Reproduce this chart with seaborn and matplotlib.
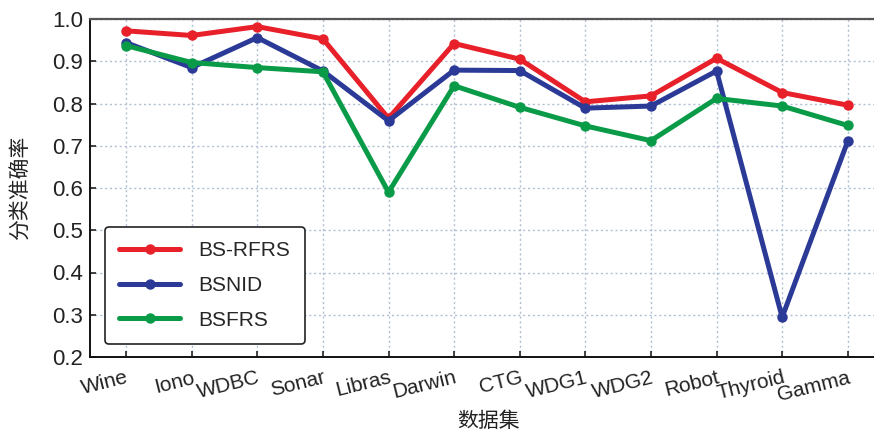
import matplotlib
matplotlib.use("Agg")
import matplotlib.pyplot as plt
import seaborn as sns
import pandas as pd

datasets = ["Wine", "Iono", "WDBC", "Sonar", "Libras", "Darwin", "CTG",
            "WDG1", "WDG2", "Robot", "Thyroid", "Gamma"]
bs_rfrs = [0.972, 0.961, 0.982, 0.953, 0.765, 0.942, 0.905, 0.804, 0.818, 0.907, 0.826, 0.796]
bsnid = [0.944, 0.885, 0.956, 0.877, 0.759, 0.879, 0.878, 0.789, 0.794, 0.877, 0.294, 0.711]
bsfrs = [0.937, 0.897, 0.885, 0.875, 0.590, 0.842, 0.791, 0.747, 0.712, 0.812, 0.794, 0.748]
series_names = ["BS-RFRS", "BSNID", "BSFRS"]
colors = ["#E8202A", "#2B3A97", "#0A9B48"]
yticks = [0.2, 0.3, 0.4, 0.5, 0.6, 0.7, 0.8, 0.9, 1.0]

rows = []
for name, vals in zip(series_names, [bs_rfrs, bsnid, bsfrs]):
    for i, v in enumerate(vals):
        rows.append({"idx": i, "acc": v, "method": name})
df = pd.DataFrame(rows)

sns.set_style("ticks")
plt.rcParams["font.family"] = ["Liberation Sans", "Noto Sans CJK SC", "DejaVu Sans"]

fig = plt.figure(figsize=(8.74, 4.32), dpi=100)
ax = fig.add_axes([90 / 874, 1 - 357 / 432, 1 - 90 / 874, (357 - 19) / 432])

sns.lineplot(data=df, x="idx", y="acc", hue="method", hue_order=series_names,
             palette=colors, marker="o", markersize=7.5, markeredgewidth=0,
             linewidth=3.6, ax=ax, legend=True)

ax.set_xlim(-0.55, 11.40)
ax.set_ylim(0.2, 1.0)
ax.set_xticks(range(len(datasets)))
ax.set_xticklabels(datasets, rotation=14, ha="right", rotation_mode="anchor", fontsize=15)
ax.set_yticks(yticks)
ax.set_yticklabels([f"{t:.1f}" for t in yticks], fontsize=16)
ax.tick_params(direction="in", length=4, width=1.2, colors="#222222", labelcolor="#222222")
ax.tick_params(axis="x", pad=8)
ax.tick_params(axis="y", pad=5)
ax.grid(True, linestyle=(0, (1.5, 2)), color="#b0c0d2", linewidth=1.0)
ax.set_axisbelow(True)

for side in ["left", "bottom"]:
    ax.spines[side].set_color("#111111")
    ax.spines[side].set_linewidth(1.4)
ax.spines["top"].set_visible(True)
ax.spines["top"].set_color("#555555")
ax.spines["top"].set_linewidth(1.6)
ax.spines["right"].set_visible(False)

ax.set_xlabel("")
ax.set_ylabel("")
fig.text(489 / 874, 1 - 421 / 432, "数据集", fontsize=15, ha="center", va="center", color="#222222")
fig.text(21 / 874, 1 - 188 / 432, "分类准确率", fontsize=15, ha="center", va="center",
         rotation=90, color="#222222")

h, l = ax.get_legend_handles_labels()
leg = ax.legend(h, l, loc="lower left", bbox_to_anchor=(0.019, 0.038), fontsize=15,
                frameon=True, fancybox=True, edgecolor="#222222", handlelength=2.9,
                handletextpad=0.9, borderpad=0.7, labelspacing=0.75, borderaxespad=0)
leg.get_frame().set_linewidth(1.2)
leg.get_frame().set_alpha(1)

fig.savefig("out.png", dpi=100)
